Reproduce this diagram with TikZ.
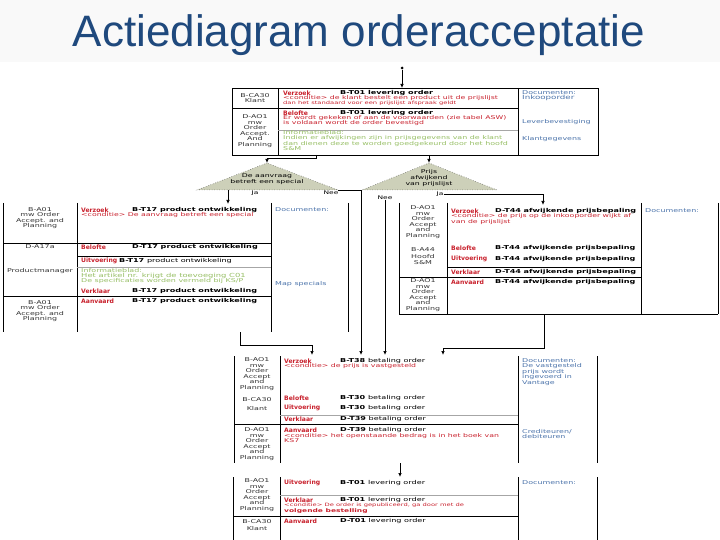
\documentclass[tikz,border=0pt]{standalone}
\usepackage{fontspec}
\setmainfont{Liberation Sans}
\newfontfamily\bodyfont{DejaVu Sans}[FakeStretch=1.5]
\newfontfamily\actfont{DejaVu Sans}
\usetikzlibrary{arrows.meta}
\definecolor{titleblue}{RGB}{31,73,125}
\definecolor{actred}{RGB}{200,32,44}
\definecolor{infogreen}{RGB}{150,190,100}
\definecolor{docblue}{RGB}{75,115,170}
\definecolor{choicefill}{RGB}{205,208,185}
\tikzset{
  title/.style={
    inner sep=0pt,
    font=\fontsize{44}{44}\selectfont,
    text=titleblue
  },
  actor/.style={
    align=center,
    inner sep=0pt,
    font=\bodyfont\fontsize{5.3}{5.6}\selectfont,
    text=black!80
  },
  act/.style={
    anchor=west,
    inner sep=0pt,
    font=\actfont\bfseries\fontsize{6.1}{6.5}\selectfont,
    text=actred
  },
  trans/.style={
    anchor=west,
    inner sep=0pt,
    font=\bodyfont\bfseries\fontsize{5.4}{6}\selectfont
  },
  cond/.style={
    anchor=west,
    inner sep=0pt,
    font=\bodyfont\fontsize{5.2}{5.5}\selectfont,
    text=actred
  },
  info/.style={
    anchor=west,
    inner sep=0pt,
    font=\bodyfont\fontsize{5.3}{5.5}\selectfont,
    text=infogreen
  },
  doc/.style={
    anchor=north west,
    align=left,
    inner sep=0pt,
    font=\bodyfont\fontsize{5.3}{5.5}\selectfont,
    text=docblue
  },
  lbl/.style={
    inner sep=0pt,
    font=\bodyfont\fontsize{5}{5.5}\selectfont
  },
  choicetext/.style={
    align=center,
    inner sep=0pt,
    font=\bodyfont\fontsize{5.2}{5.8}\selectfont
  },
  startdot/.style={circle, fill, inner sep=0pt, minimum size=3pt},
  frame/.style={line width=0.9pt},
  divider/.style={line width=0.5pt, draw=gray!70},
  choice/.style={fill=choicefill, draw=black!70, dotted, line width=0.5pt},
  flow/.style={-{Latex[length=4pt,width=3.5pt]}, line width=0.7pt}
}

\begin{document}
\begin{tikzpicture}[x=1pt,y=-1pt]
  \useasboundingbox (0,0) rectangle (720,540);
  \fill[gray!5] (0,0) rectangle (720,62);
  \node[title] (title) at (359,35) {Actiediagram orderacceptatie};

  % bestelling door klant
  \node[startdot] (begin) at (402,68) {};
  \coordinate (ordin) at (402,88);
  \draw[frame] (232,88) rectangle (598,155);
  \draw[frame] (278,88) -- (278,155);
  \draw[frame] (518,88) -- (518,155);
  \draw[frame] (232,108) -- (518,108);
  \draw[divider] (278,130) -- (518,130);
  \node[actor] (ordklant) at (255,98) {B-CA30\\Klant};
  \node[actor] (ordoap) at (255,131) {D-AO1\\mw\\Order\\Accept.\\And\\Planning};
  \node[act] (ordverzoek) at (283,93) {Verzoek};
  \node[trans] (ordverzoekt) at (340,93) {B-T01\enspace levering order};
  \node[cond] (ordverzoekc) at (283,98) {<conditie> de klant bestelt een product uit de prijslijst};
  \node[cond, font=\bodyfont\fontsize{4.5}{5}\selectfont] (ordverzoekd) at (283,103) {dan het standaard voor een prijslijst afspraak geldt};
  \node[act] (ordbelofte) at (283,113) {Belofte};
  \node[trans] (ordbeloftet) at (340,113) {B-T01\enspace levering order};
  \node[cond] (ordbeloftec) at (283,118) {Er wordt gekeken of aan de voorwaarden (zie tabel ASW)};
  \node[cond] (ordbelofted) at (283,123) {is voldaan wordt de order bevestigd};
  \node[info] (ordinfo) at (283,133) {Informatieblad:};
  \node[info] (ordinfob) at (283,138) {Indien er afwijkingen zijn in prijsgegevens van de klant};
  \node[info] (ordinfoc) at (283,144) {dan dienen deze te worden goedgekeurd door het hoofd};
  \node[info] (ordinfod) at (283,149) {S\&M};
  \node[doc] (orddoc) at (522,90) {Documenten:\\{\fontsize{5.8}{6}\selectfont Inkooporder}};
  \node[doc] (ordlever) at (522,119) {Leverbevestiging};
  \node[doc] (ordklantg) at (522,136) {Klantgegevens};
  \coordinate (ordoutL) at (316,155);
  \coordinate (ordoutR) at (429,155);

  % keuzes
  \coordinate (ch1top) at (267,163);
  \filldraw[choice] (ch1top) -- (197,190) -- (338,190) -- cycle;
  \node[choicetext] (ch1) at (267,179) {De aanvraag\\betreft een special};
  \coordinate (ch2top) at (429,163);
  \filldraw[choice] (ch2top) -- (362,190) -- (497,190) -- cycle;
  \node[choicetext] (ch2) at (429,178) {Prijs\\afwijkend\\van prijslijst};
  \node[lbl] (ch1ja) at (255,193) {Ja};
  \node[lbl] (ch1nee) at (331,193) {Nee};
  \node[lbl] (ch2nee) at (385,198) {Nee};
  \node[lbl] (ch2ja) at (440,194) {Ja};
  \coordinate (ch1jaout) at (228,190);
  \coordinate (ch1right) at (338,190);

  % special
  \draw[frame] (3,203) -- (3,332);
  \draw[frame] (77,203) -- (77,332);
  \draw[frame] (271,203) -- (271,332);
  \draw[frame] (348,203) -- (348,332);
  \draw[frame] (3,243) -- (271,243);
  \draw[frame] (3,296) -- (271,296);
  \draw[frame] (77,256) -- (271,256);
  \draw[divider] (77,267) -- (271,267);
  \coordinate (spin) at (228,204);
  \node[actor] (spoap) at (40,218) {B-A01\\mw Order\\Accept. and\\Planning};
  \node[actor] (sppm) at (40,247) {D-A17a};
  \node[actor] (sppmb) at (40,271) {Productmanager};
  \node[actor] (spoapb) at (40,311) {B-A01\\mw Order\\Accept. and\\Planning};
  \node[act] (spverzoek) at (81,210) {Verzoek};
  \node[trans] (spverzoekt) at (132,210) {B-T17\enspace product ontwikkeling};
  \node[cond] (spverzoekc) at (81,215.5) {<conditie> De aanvraag betreft een special};
  \node[act] (spbelofte) at (81,247) {Belofte};
  \node[trans] (spbeloftet) at (132,247) {D-T17\enspace product ontwikkeling};
  \node[act] (spuitv) at (81,261) {Uitvoering};
  \node[trans] (spuitvt) at (119,261) {B-T17\enspace{\mdseries product ontwikkeling}};
  \node[info] (spinfo) at (81,271) {Informatieblad:};
  \node[info, font=\bodyfont\fontsize{5.6}{6}\selectfont] (spinfob) at (81,276) {Het artikel nr. krijgt de toevoeging C01};
  \node[info] (spinfoc) at (81,281) {De specificaties worden vermeld bij KS/P};
  \node[act] (spverkl) at (81,291) {Verklaar};
  \node[trans] (spverklt) at (132,291) {B-T17\enspace product ontwikkeling};
  \node[act] (spaanv) at (81,301) {Aanvaard};
  \node[trans] (spaanvt) at (132,301) {B-T17\enspace product ontwikkeling};
  \node[doc] (spdoc) at (275,207) {Documenten:};
  \node[doc] (spmap) at (275,281) {Map specials};
  \coordinate (spout) at (240,332);

  % afwijkende prijs
  \draw[frame] (399,203) -- (399,314);
  \draw[frame] (447,203) -- (447,314);
  \draw[frame] (641,203) -- (641,314);
  \draw[frame] (718,203) -- (718,314);
  \draw[frame] (399,314) -- (718,314);
  \draw[frame] (447,267) -- (641,267);
  \draw[frame] (399,277) -- (641,277);
  \coordinate (afwin) at (543,205);
  \node[actor] (afwoap) at (423,222) {D-AO1\\mw\\Order\\Accept\\and\\Planning};
  \node[actor] (afwsm) at (423,256) {B-A44\\[2pt]Hoofd\\S\&M};
  \node[actor] (afwoapb) at (423,295) {D-AO1\\mw\\Order\\Accept\\and\\Planning};
  \node[act] (afwverzoek) at (451,211) {Verzoek};
  \node[trans] (afwverzoekt) at (495,211) {D-T44\enspace afwijkende prijsbepaling};
  \node[cond] (afwverzoekc) at (451,216.5) {<conditie> de prijs op de inkooporder wijkt af};
  \node[cond] (afwverzoekd) at (451,222) {van de prijslijst};
  \node[act] (afwbelofte) at (451,248) {Belofte};
  \node[trans] (afwbeloftet) at (495,248) {B-T44\enspace afwijkende prijsbepaling};
  \node[act] (afwuitv) at (451,259) {Uitvoering};
  \node[trans] (afwuitvt) at (495,259) {B-T44\enspace afwijkende prijsbepaling};
  \node[act] (afwverkl) at (451,272) {Verklaar};
  \node[trans] (afwverklt) at (495,272) {D-T44\enspace afwijkende prijsbepaling};
  \node[act] (afwaanv) at (451,282) {Aanvaard};
  \node[trans] (afwaanvt) at (495,282) {B-T44\enspace afwijkende prijsbepaling};
  \node[doc] (afwdoc) at (645,208) {Documenten:};
  \coordinate (afwout) at (544,314);

  % betaling
  \draw[frame] (234,356) -- (234,463);
  \draw[frame] (280,356) -- (280,463);
  \draw[frame] (518,356) -- (518,463);
  \draw[frame] (597,356) -- (597,463);
  \draw[divider] (280,415) -- (518,415);
  \draw[frame] (234,424) -- (518,424);
  \coordinate (betin1) at (312,355);
  \coordinate (betin2) at (361,355);
  \coordinate (betin3) at (385,355);
  \coordinate (betin4) at (443,355);
  \node[actor] (betoap) at (257,374) {B-AO1\\mw\\Order\\Accept\\and\\Planning};
  \node[actor] (betklant) at (257,404) {B-CA30\\[4pt]Klant};
  \node[actor] (betoapb) at (257,444) {D-AO1\\mw\\Order\\Accept\\and\\Planning};
  \node[act] (betverzoek) at (284,361) {Verzoek};
  \node[trans] (betverzoekt) at (340,361) {B-T38\enspace{\mdseries betaling order}};
  \node[cond] (betverzoekc) at (284,366.5) {<conditie> de prijs is vastgesteld};
  \node[act] (betbelofte) at (284,398) {Belofte};
  \node[trans] (betbeloftet) at (340,398) {B-T30\enspace{\mdseries betaling order}};
  \node[act] (betuitv) at (284,408) {Uitvoering};
  \node[trans] (betuitvt) at (340,408) {B-T30\enspace{\mdseries betaling order}};
  \node[act] (betverkl) at (284,419) {Verklaar};
  \node[trans] (betverklt) at (340,419) {D-T39\enspace{\mdseries betaling order}};
  \node[act] (betaanv) at (284,430) {Aanvaard};
  \node[trans] (betaanvt) at (340,430) {D-T39\enspace{\mdseries betaling order}};
  \node[cond] (betaanvc) at (284,436) {<conditie> het openstaande bedrag is in het boek van};
  \node[cond] (betaanvd) at (284,441) {KS7};
  \node[doc] (betdoc) at (522,358) {Documenten:\\De vastgesteld\\prijs wordt\\ingevoerd in\\Vantage};
  \node[doc] (betdeb) at (522,429) {Crediteuren/\\debiteuren};
  \coordinate (betout) at (400,463);

  % levering
  \draw[frame] (233,477) -- (233,540);
  \draw[frame] (280,477) -- (280,540);
  \draw[frame] (518,477) -- (518,540);
  \draw[frame] (597,477) -- (597,540);
  \draw[divider] (280,495) -- (518,495);
  \draw[frame] (233,516) -- (518,516);
  \coordinate (levin) at (400,477);
  \node[actor] (levoap) at (257,495) {B-AO1\\mw\\Order\\Accept\\and\\Planning};
  \node[actor] (levklant) at (257,525) {B-CA30\\[2pt]Klant};
  \node[act] (levuitv) at (284,483) {Uitvoering};
  \node[trans] (levuitvt) at (340,483) {B-T01\enspace{\mdseries levering order}};
  \node[act] (levverkl) at (284,500) {Verklaar};
  \node[trans] (levverklt) at (340,500) {B-T01\enspace{\mdseries levering order}};
  \node[cond, font=\bodyfont\fontsize{4.5}{5}\selectfont] (levverklc) at (284,505.5) {<conditie> De order is gepubliceerd, ga door met de};
  \node[cond, font=\bodyfont\bfseries\fontsize{5}{5.5}\selectfont] (levverkld) at (284,511) {volgende bestelling};
  \node[act] (levaanv) at (284,521) {Aanvaard};
  \node[trans] (levaanvt) at (340,521) {D-T01\enspace{\mdseries levering order}};
  \node[doc] (levdoc) at (522,480) {Documenten:};

  \draw[flow] (begin) -- (ordin);
  \draw[flow] (ordoutL) -- ++(0,3) -| (ch1top);
  \draw[flow] (ordoutR) -- (ch2top);
  \draw[flow] (ch1jaout) -- (spin);
  \draw[flow] (ch1right) -| (betin2);
  \draw[flow] (ch2nee.south) -- (betin3);
  \draw[flow] (ch2ja.east) -| (afwin);
  \draw[flow] (spout) -- ++(0,13) -| (betin1);
  \draw[flow] (afwout) -- ++(0,34) -| (betin4);
  \draw[flow] (betout) -- (levin);
\end{tikzpicture}
\end{document}
